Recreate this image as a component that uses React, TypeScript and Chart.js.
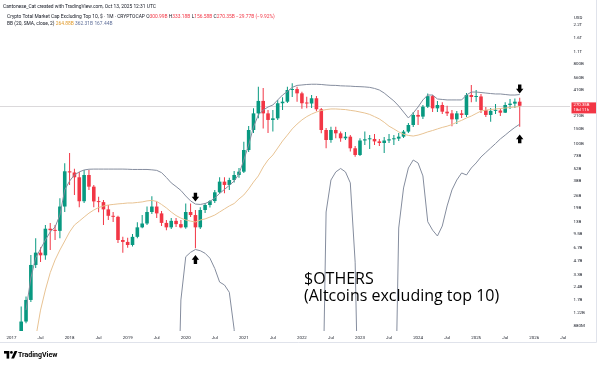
import React, { useEffect, useRef } from 'react';
import { Chart, registerables } from 'chart.js';

Chart.register(...registerables);

// Monthly candles, CRYPTOCAP:OTHERS, in billions USD. Month index counts from Jan 2017 (=0).
const FIRST_MONTH = 2; // Mar 2017

const OPEN = [
  0.67, 0.98, 1.72, 4.28, 5.9, 5.5, 11.0, 10.6, 10.4, 19.6,
  49.1, 47.6, 42, 22.5, 44.6, 32.9, 22.4, 22.0, 18.2, 15.4,
  15.0, 8.2, 7.8, 7.2, 8.9, 11.4, 12.6, 17.0, 19.6, 16.4,
  12.8, 11.4, 13.5, 12.4, 11.4, 17.0, 15.7, 11.4, 17.9, 20.4,
  22.6, 28.4, 37.5, 34.4, 39.1, 44.6, 48.6, 85.5, 144, 222,
  307, 222, 187, 195, 289, 301, 408, 418, 374, 289,
  287, 329, 247, 144, 111, 144, 132, 116, 121, 89.4,
  75.1, 109.5, 113, 114, 107, 102.6, 109.5, 113, 115, 121,
  138, 164, 213, 204, 264, 348, 253, 276, 232, 222,
  190, 222, 213, 358, 340, 345, 242, 213, 237, 239,
  226, 276, 286, 300.99,
];
const HIGH = [
  1.45, 1.88, 5.55, 8.6, 6.8, 12.1, 12.8, 12.1, 24.3, 60.5,
  79, 52.5, 48.3, 50.8, 50.8, 34.4, 25.3, 23.3, 20.4, 17.0,
  15.4, 8.9, 8.7, 9.6, 13.0, 15.7, 19.6, 25.6, 22.4, 17.5,
  13.8, 14.5, 14.5, 13.8, 21.2, 21.2, 17.9, 19.3, 21.5, 23.3,
  30.2, 42, 42, 41.4, 49.6, 53.5, 106, 160, 253, 444,
  430, 242, 242, 315, 337, 444, 486, 444, 390, 342,
  358, 349, 255, 152, 157, 157, 138, 137, 126, 95,
  116, 138, 126, 130, 114, 120, 130, 126, 133, 144,
  173, 230, 242, 276, 373, 358, 307, 296, 270, 242,
  236, 242, 377, 465, 408, 368, 262, 255, 283, 252,
  296, 323, 327, 333.18,
];
const LOW = [
  0.64, 0.94, 1.63, 3.96, 4.62, 4.9, 6.3, 8.2, 8.6, 17.0,
  34.4, 26.5, 19.3, 21.5, 30.2, 19.3, 16.9, 12.1, 13.8, 13.1,
  7.6, 5.9, 6.7, 6.9, 8.6, 11.1, 12.1, 16.1, 14.5, 11.8,
  10.6, 10.9, 11.5, 11.1, 11.0, 14.9, 6.6, 10.9, 16.6, 19.1,
  21.5, 27.3, 27.7, 30.2, 36.6, 41.4, 47.0, 81, 133, 195,
  150, 133, 138, 187, 242, 290, 340, 300, 250, 253,
  255, 235, 132, 89.4, 103, 116, 106, 111, 82, 71.5,
  73, 97.4, 87.8, 97.4, 95, 79, 102.6, 97.4, 108, 117,
  133, 156, 164, 192, 255, 230, 230, 218, 207, 159,
  168, 197, 202, 296, 301, 224, 202, 179, 218, 207,
  224, 249, 255, 156.58,
];
const CLOSE = [
  0.98, 1.72, 4.28, 5.9, 5.5, 11.0, 10.6, 10.4, 19.6, 49.1,
  47.6, 42, 22.5, 44.6, 32.9, 22.4, 22.0, 18.2, 15.4, 15.0,
  8.2, 7.8, 7.2, 8.9, 11.4, 12.6, 17.0, 19.6, 16.4, 12.8,
  11.4, 13.5, 12.4, 11.4, 17.0, 15.7, 11.4, 17.9, 20.4, 22.6,
  28.4, 37.5, 34.4, 39.1, 44.6, 48.6, 85.5, 144, 222, 307,
  222, 187, 195, 289, 301, 408, 418, 374, 289, 287,
  329, 247, 144, 111, 144, 132, 116, 121, 89.4, 75.1,
  109.5, 113, 114, 107, 102.6, 109.5, 113, 115, 121, 138,
  164, 213, 204, 264, 348, 253, 276, 232, 222, 190,
  222, 213, 358, 340, 345, 242, 213, 237, 239, 226,
  276, 286, 300.99, 270.35,
];

// Bollinger Bands (20, SMA, close, 2), billions USD, same months as the candles.
const BB_UPPER = [
  null, 1.32, 3.05, 5.15, 6.5, 8.2, 10.1, 11.5, 15.7, 30.2,
  38.1, 44.6, 48.3, 50.8, 51.8, 52, 52, 52, 52, 52,
  52, 52, 51.8, 51.5, 51.5, 51.5, 51.5, 51, 50.3, 47.4,
  41.8, 36.3, 33, 29.8, 25.8, 22.7, 20.9, 20.7, 21.2, 22.4,
  24.5, 27.6, 30.6, 34.0, 38.1, 45.8, 65.9, 97.4, 156, 213,
  242, 262, 276, 315, 358, 392, 437, 460, 465, 471,
  474, 474, 471, 465, 461, 460, 455, 453, 451, 447,
  445, 442, 437, 425, 408, 377, 340, 307, 269, 230,
  197, 224, 262, 315, 358, 358, 323, 319, 315, 315,
  315, 315, 358, 387, 387, 382, 377, 372, 368, 368,
  363, 358, 358, 362.31,
];
const BB_BASIS = [
  null, 0.214, 0.36, 0.64, 1.32, 2.23, 3.5, 4.87, 6.32, 7.98,
  10.1, 12.1, 13.4, 14.9, 16.5, 17.9, 19.1, 19.9, 20.4, 20.7,
  21.0, 21.2, 21.5, 21.5, 21.8, 22.1, 22.7, 23.0, 22.4, 20.7,
  18.9, 17.0, 15.5, 14.5, 13.8, 13.4, 13.1, 13.8, 14.2, 14.9,
  15.7, 17.0, 18.4, 19.9, 21.2, 23.9, 26.5, 31.0, 37.1, 43.5,
  54.9, 65.9, 75.1, 90, 108, 126, 148, 168, 187, 204,
  218, 230, 239, 245, 249, 249, 247, 245, 240, 236,
  230, 224, 216, 204, 192, 176, 159, 148, 137, 129,
  125, 123, 126, 131, 137, 142, 148, 154, 159, 166,
  176, 185, 197, 207, 221, 236, 242, 245, 249, 252,
  255, 259, 262, 264.88,
];
// 0.01 marks months where the lower band sits far below the visible range.
const BB_LOWER = [
  0.01, 0.01, 0.01, 0.01, 0.01, 0.01, 0.01, 0.01, 0.01, 0.01,
  0.01, 0.01, 0.01, 0.01, 0.01, 0.01, 0.01, 0.01, 0.01, 0.01,
  0.01, 0.01, 0.01, 0.01, 0.01, 0.01, 0.01, 0.01, 0.01, 0.01,
  0.01, 0.01, 0.01, 1.72, 5.3, 5.95, 6.4, 6.2, 5.8, 5.1,
  3.9, 2.74, 2.54, 2.1, 0.8, 0.01, 0.01, 0.01, 0.01, 0.01,
  0.01, 0.01, 0.01, 0.01, 0.01, 0.01, 0.01, 0.01, 0.01, 0.01,
  0.01, 0.01, 0.01, 17.0, 39.1, 48.3, 52.8, 48.3, 36.3, 4.6,
  0.01, 0.01, 0.01, 0.01, 0.01, 0.01, 0.01, 0.01, 11.2, 31.8,
  53.5, 65.9, 60.9, 43.5, 13.2, 10.6, 9.1, 11.8, 19.9, 30.2,
  39.1, 47, 44.6, 53.5, 61, 71.3, 80.1, 90, 101, 114,
  126, 140, 154, 167.44,
];

const LAST_CLOSE = 270.35;

const Y_TICKS = [2200, 1600, 1100, 800, 560, 410, 210, 150, 100, 73, 52, 38, 26, 19, 13, 9.5, 6.7, 4.7, 3.3, 2.4, 1.7, 1.22, 0.88];
const Y_TICK_LABELS = ['2.2T', '1.6T', '1.1T', '800B', '560B', '410B', '210B', '150B', '100B', '73B', '52B', '38B', '26B', '19B', '13B', '9.5B', '6.7B', '4.7B', '3.3B', '2.4B', '1.7B', '1.22B', '880M'];

const X_TICK_MONTHS = [0, 6, 12, 18, 24, 30, 36, 42, 48, 54, 60, 66, 72, 78, 84, 90, 96, 102, 108, 114];
const X_TICK_LABELS = ['2017', 'Jul', '2018', 'Jul', '2019', 'Jul', '2020', 'Jul', '2021', 'Jul', '2022', 'Jul', '2023', 'Jul', '2024', 'Jul', '2025', 'Jul', '2026', 'Jul'];

// Hand-drawn arrow marks: month index, price level (B), direction.
const ARROWS = [
  { month: 38, value: 25.1, dir: 'down' },
  { month: 38, value: 4.93, dir: 'up' },
  { month: 105, value: 419, dir: 'down' },
  { month: 105, value: 114, dir: 'up' },
];

const X_MIN = -2.376;
const X_MAX = 115.39;
const Y_MIN = 0.766;
const Y_MAX = 3279;

const UP = '#089981';
const DOWN = '#F23645';
const BAND = '#858d9e';
const BASIS = '#e8c393';
const TEXT = '#131722';

function drawArrow(ctx: CanvasRenderingContext2D, cx: number, cy: number, dir: string) {
  const s = dir === 'down' ? 1 : -1;
  ctx.beginPath();
  ctx.moveTo(cx - 1.7, cy - 4.4 * s);
  ctx.lineTo(cx + 1.7, cy - 4.4 * s);
  ctx.lineTo(cx + 1.7, cy - 0.2 * s);
  ctx.lineTo(cx + 3.7, cy - 0.2 * s);
  ctx.lineTo(cx, cy + 4.4 * s);
  ctx.lineTo(cx - 3.7, cy - 0.2 * s);
  ctx.lineTo(cx - 1.7, cy - 0.2 * s);
  ctx.closePath();
  ctx.fill();
}

const overlayPlugin = {
  id: 'overlay',
  beforeDatasetsDraw(chart: any) {
    const { ctx, chartArea, scales } = chart;
    const py = Math.round(scales.y.getPixelForValue(LAST_CLOSE)) + 0.5;
    ctx.save();
    ctx.strokeStyle = 'rgba(190,185,190,0.55)';
    ctx.lineWidth = 1;
    ctx.beginPath();
    ctx.moveTo(chartArea.left, py);
    ctx.lineTo(chartArea.right, py);
    ctx.stroke();
    ctx.restore();
  },
  afterDraw(chart: any) {
    const { ctx, chartArea, scales } = chart;
    ctx.save();
    ctx.fillStyle = '#000';
    ARROWS.forEach((a) => {
      drawArrow(ctx, scales.x.getPixelForValue(a.month), scales.y.getPixelForValue(a.value), a.dir);
    });
    const py = scales.y.getPixelForValue(LAST_CLOSE);
    const bx = chartArea.right + 1.5;
    ctx.fillStyle = DOWN;
    ctx.fillRect(bx, py - 3.4, 25.5, 11);
    ctx.fillStyle = '#fff';
    ctx.font = '4.3px Roboto';
    ctx.textBaseline = 'middle';
    ctx.textAlign = 'left';
    ctx.fillText('270.35B', bx + 2, py - 0.4);
    ctx.fillText('18d 11h', bx + 2, py + 4.6);
    ctx.strokeStyle = '#e0e3eb';
    ctx.lineWidth = 1;
    ctx.beginPath();
    ctx.moveTo(0, 342.5);
    ctx.lineTo(596.5, 342.5);
    ctx.moveTo(596.5, 0);
    ctx.lineTo(596.5, 342.5);
    ctx.stroke();
    ctx.restore();
  },
};

export default function App() {
  const ref = useRef<HTMLCanvasElement>(null);

  useEffect(() => {
    document.body.style.margin = '0';
    const canvas = ref.current;
    if (!canvas) return;

    const months = OPEN.map((_, i) => FIRST_MONTH + i);
    const bodies = months.map((m, i) => ({ x: m, y: [Math.min(OPEN[i], CLOSE[i]), Math.max(OPEN[i], CLOSE[i])] }));
    const wicks = months.map((m, i) => ({ x: m, y: [LOW[i], HIGH[i]] }));
    const colors = months.map((_, i) => (CLOSE[i] >= OPEN[i] ? UP : DOWN));
    const line = (arr: (number | null)[]) => arr.map((v, i) => ({ x: months[i], y: v }));
    const font = { family: 'Roboto', size: 4.4 };

    const chart = new Chart(canvas, {
      type: 'bar',
      data: {
        datasets: [
          { type: 'line', data: line(BB_UPPER), borderColor: BAND, borderWidth: 1, pointRadius: 0, order: 0 } as any,
          { type: 'line', data: line(BB_LOWER), borderColor: BAND, borderWidth: 1, pointRadius: 0, order: 0 } as any,
          { type: 'line', data: line(BB_BASIS), borderColor: BASIS, borderWidth: 1, pointRadius: 0, order: 0 } as any,
          {
            type: 'bar', data: bodies, backgroundColor: colors, barThickness: 3.6, maxBarThickness: 3.6,
            grouped: false, minBarLength: 1, borderWidth: 0, inflateAmount: 0, clip: 0, order: 1,
          } as any,
          {
            type: 'bar', data: wicks, backgroundColor: colors, barThickness: 1, maxBarThickness: 1,
            grouped: false, borderWidth: 0, inflateAmount: 0, clip: 0, order: 2,
          } as any,
        ],
      },
      options: {
        animation: false,
        responsive: false,
        maintainAspectRatio: false,
        devicePixelRatio: 1,
        events: [],
        layout: { padding: { top: 10, left: 0, right: 0, bottom: 0 } },
        plugins: { legend: { display: false }, tooltip: { enabled: false } },
        scales: {
          x: {
            type: 'linear', min: X_MIN, max: X_MAX, offset: false,
            grid: { display: false, drawTicks: false }, border: { display: false },
            afterBuildTicks: (s: any) => { s.ticks = X_TICK_MONTHS.map((v) => ({ value: v })); },
            afterFit: (s: any) => { s.height = 36; },
            ticks: { autoSkip: false, maxRotation: 0, padding: 4, font, color: TEXT, callback: (_v: any, i: number) => X_TICK_LABELS[i] },
          },
          y: {
            type: 'logarithmic', position: 'right', min: Y_MIN, max: Y_MAX,
            grid: { display: false, drawTicks: false }, border: { display: false },
            afterBuildTicks: (s: any) => { s.ticks = Y_TICKS.map((v) => ({ value: v })); },
            afterFit: (s: any) => { s.width = 30; },
            ticks: { autoSkip: false, padding: 3.5, font, color: TEXT, callback: (_v: any, i: number) => Y_TICK_LABELS[i] },
          },
        },
      } as any,
      plugins: [overlayPlugin],
    });
    return () => chart.destroy();
  }, []);

  const small: React.CSSProperties = { position: 'absolute', whiteSpace: 'nowrap', fontSize: 4.9, lineHeight: '5px', color: TEXT, fontFamily: 'Roboto, sans-serif' };

  return (
    <div style={{ position: 'relative', width: 600, height: 367, background: '#fff', overflow: 'hidden' }}>
      <canvas ref={ref} width={600} height={367} style={{ position: 'absolute', left: 0, top: 0, width: 600, height: 367 }} />
      <div style={{ ...small, left: 3, top: 3.5 }}>Cantonese_Cat created with TradingView.com, Oct 13, 2025 12:31 UTC</div>
      <div style={{ ...small, left: 7, top: 13.5 }}>
        Crypto Total Market Cap Excluding Top 10, $ · 1M · CRYPTOCAP{'  '}
        O<span style={{ color: DOWN }}>300.99B</span> H<span style={{ color: DOWN }}>333.18B</span> L<span style={{ color: DOWN }}>156.58B</span> C<span style={{ color: DOWN }}>270.35B</span>{' '}
        <span style={{ color: DOWN }}>−29.77B (−9.92%)</span>
      </div>
      <div style={{ ...small, left: 7, top: 21 }}>
        BB (20, SMA, close, 2){'  '}
        <span style={{ color: '#e09a2a' }}>264.88B</span>{'  '}
        <span style={{ color: '#5f6f99' }}>362.31B</span>{'  '}
        <span style={{ color: '#5f6f99' }}>167.44B</span>
      </div>
      <div style={{ ...small, fontSize: 4.4, left: 574, top: 14.5 }}>USD</div>
      <div style={{ position: 'absolute', left: 304, top: 270, fontFamily: '"Open Sans", sans-serif', fontSize: 16, lineHeight: '17px', color: '#000', whiteSpace: 'nowrap' }}>
        <div>$OTHERS</div>
        <div>(Altcoins excluding top 10)</div>
      </div>
      <svg style={{ position: 'absolute', left: 4, top: 351 }} width={14} height={8} viewBox="0 0 14 8">
        <rect x={0} y={0} width={5.2} height={2.6} fill="#000" />
        <rect x={2.6} y={0} width={2.6} height={7.6} fill="#000" />
        <circle cx={7.4} cy={1.4} r={1.35} fill="#000" />
        <polygon points="7.2,7.6 10.6,0.1 13.4,0.1 10,7.6" fill="#000" />
      </svg>
      <div style={{ position: 'absolute', left: 18, top: 350, fontFamily: 'Roboto, sans-serif', fontSize: 7, fontWeight: 700, lineHeight: '10px', color: '#000', whiteSpace: 'nowrap' }}>
        TradingView
      </div>
    </div>
  );
}
